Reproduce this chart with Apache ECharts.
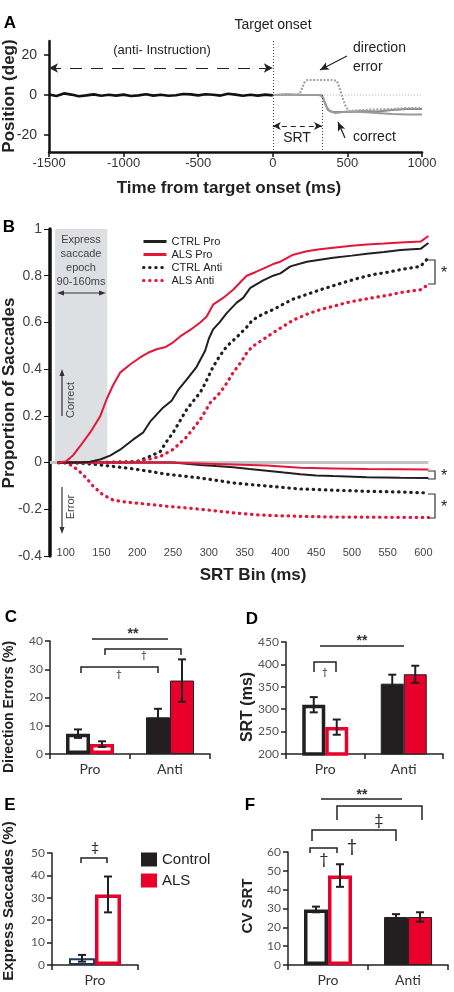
<!DOCTYPE html>
<html><head><meta charset="utf-8">
<script src="https://cdn.jsdelivr.net/npm/echarts@6/dist/echarts.min.js"></script>
<style>html,body{margin:0;padding:0;background:#fff}#c{width:454px;height:992px}</style>
</head><body><div id="c"></div>
<script>
// ---------- DATA ----------
// Panel A: eye position traces (time ms, position deg)
const aPreTrace = [[-1500,0.3],[-1450,-0.5],[-1400,0.8],[-1350,0.2],[-1300,-0.6],[-1250,-0.2],[-1200,0.3],[-1150,-0.4],[-1100,0.1],[-1050,-0.3],[-1000,0.2],[-950,-0.5],[-900,-0.2],[-850,0.4],[-800,-0.3],[-750,0.1],[-700,-0.4],[-650,-0.1],[-600,0.5],[-550,0.3],[-500,-0.2],[-450,0.4],[-400,0.1],[-350,-0.3],[-300,0.6],[-250,0.2],[-200,-0.4],[-150,0.1],[-100,-0.3],[-50,0.2],[0,-0.2]];
const aCorrect1 = [[0,0],[100,0.4],[200,0],[300,0],[330,-0.3],[350,-4],[370,-7.5],[400,-8.5],[500,-8.5],[600,-8],[700,-8.2],[800,-7.5],[900,-7],[1000,-7]];
const aCorrect2 = [[0,0],[150,0],[320,0],[340,-2],[360,-6],[380,-8],[420,-9],[500,-8.3],[600,-8.5],[700,-9],[800,-9.5],[900,-9.8],[1000,-9.8]];
const aErrorTrace = [[0,0],[150,0],[180,0.5],[210,6],[230,7.5],[300,7.5],[400,7.5],[430,7],[450,3],[470,-2],[490,-6],[510,-8],[600,-7.5],[700,-7.2],[800,-7],[900,-6.5],[1000,-6.5]];
const aTicksY = [-20, 0, 20];

// Panel B: cumulative proportion of saccades by SRT bin (ms, proportion)
const bCtrlPro = [[90,0],[120,0],[134,0.004],[148,0.013],[162,0.03],[176,0.055],[194,0.098],[208,0.128],[218,0.175],[236,0.235],[248,0.265],[257,0.31],[269,0.355],[283,0.41],[295,0.48],[300,0.53],[306,0.57],[315,0.6],[325,0.64],[339,0.685],[348,0.705],[358,0.748],[376,0.78],[390,0.8],[400,0.81],[414,0.84],[437,0.86],[474,0.877],[500,0.886],[521,0.894],[545,0.902],[568,0.91],[596,0.915],[607,0.94]];
const bAlsPro = [[90,0],[100,0.005],[110,0.03],[120,0.07],[134,0.128],[148,0.197],[157,0.27],[166,0.33],[176,0.385],[190,0.42],[204,0.45],[215,0.47],[227,0.485],[240,0.495],[248,0.51],[260,0.54],[275,0.57],[288,0.6],[297,0.625],[306,0.676],[320,0.705],[334,0.74],[345,0.775],[353,0.8],[365,0.815],[376,0.83],[390,0.85],[400,0.86],[418,0.89],[437,0.905],[455,0.913],[474,0.92],[500,0.928],[521,0.934],[545,0.938],[568,0.942],[596,0.946],[607,0.97]];
const bCtrlAnti = [[90,0],[150,0],[200,0.005],[213,0.02],[232,0.047],[241,0.09],[250,0.128],[260,0.18],[269,0.227],[280,0.27],[288,0.3],[295,0.34],[306,0.41],[315,0.455],[325,0.497],[340,0.54],[353,0.58],[361,0.61],[375,0.635],[390,0.655],[405,0.68],[418,0.7],[437,0.72],[456,0.74],[475,0.758],[493,0.775],[510,0.79],[530,0.805],[550,0.815],[568,0.826],[596,0.84],[607,0.877]];
const bAlsAnti = [[90,0],[150,0],[200,0.003],[232,0.026],[250,0.056],[269,0.11],[288,0.184],[302,0.256],[316,0.3],[325,0.34],[334,0.385],[345,0.43],[353,0.47],[361,0.497],[375,0.525],[390,0.556],[405,0.585],[418,0.61],[437,0.635],[456,0.655],[475,0.67],[493,0.685],[510,0.695],[530,0.706],[550,0.716],[568,0.728],[596,0.74],[607,0.762]];
const bCtrlProErr = [[90,0],[250,0],[288,-0.01],[310,-0.015],[334,-0.02],[357,-0.028],[381,-0.035],[405,-0.043],[428,-0.05],[450,-0.055],[474,-0.058],[521,-0.063],[568,-0.065],[607,-0.066]];
const bAlsProErr = [[90,0],[241,0],[288,-0.004],[334,-0.008],[381,-0.013],[428,-0.022],[474,-0.025],[521,-0.028],[568,-0.029],[607,-0.03]];
const bCtrlAntiErr = [[90,0],[120,-0.002],[148,-0.01],[170,-0.018],[194,-0.027],[218,-0.038],[241,-0.05],[265,-0.058],[288,-0.066],[310,-0.076],[334,-0.087],[357,-0.094],[381,-0.1],[405,-0.107],[428,-0.113],[474,-0.118],[521,-0.123],[568,-0.126],[607,-0.13]];
const bAlsAntiErr = [[90,0],[100,0],[110,-0.015],[120,-0.04],[130,-0.07],[138,-0.1],[152,-0.138],[166,-0.16],[180,-0.168],[194,-0.172],[220,-0.18],[241,-0.187],[265,-0.193],[288,-0.2],[310,-0.207],[334,-0.215],[360,-0.222],[381,-0.226],[428,-0.23],[474,-0.233],[540,-0.234],[607,-0.235]];
const bTickLabelsX = [100,150,200,250,300,350,400,450,500,550,600];
const bExpressEpoch = [85, 158];

// Bar panels
const catsProAnti = ['Pro', 'Anti'];
const catsPro = ['Pro'];
const cCtrl = [7.2, 13], cCtrlErr = [1.5, 3], cAls = [3.5, 26], cAlsErr = [1, 7.5];
const dCtrl = [310, 357], dCtrlErr = [17, 20], dAls = [260, 378], dAlsErr = [17, 19];
const eCtrl = [3], eCtrlErr = [1.5], eAls = [31.5], eAlsErr = [8];
const fCtrl = [29.5, 25.5], fCtrlErr = [1.5, 1.5], fAls = [47.5, 25.5], fAlsErr = [6, 2.5];

// ---------- STYLE ----------
const BLK = '#231f20', RED = '#e4163a', BRED = '#e8002a', NAVY = '#1d3a57';
const ARIAL = '"Liberation Sans", Arial, sans-serif';
const CAL = 'Lato, "Open Sans", sans-serif';

const chart = echarts.init(document.getElementById('c'), null, {renderer: 'canvas'});

function lineS(name, data, color, dotted, gi, extra) {
  return Object.assign({
    type: 'line', name, data, xAxisIndex: gi, yAxisIndex: gi, symbol: 'none', showSymbol: false,
    silent: true, animation: false, itemStyle: {color},
    lineStyle: dotted ? {color, width: 3.2, type: [0.5, 5.6], cap: 'round'} : {color, width: 2}
  }, extra || {});
}

function barAxisX(gi, cats) {
  return {gridIndex: gi, type: 'category', data: cats,
    axisLine: {onZero: false, lineStyle: {color: '#222', width: 1.5}},
    axisTick: {show: true, length: 5, lineStyle: {color: '#222', width: 1.5}},
    axisLabel: {fontSize: 14, color: '#333', margin: 8, fontFamily: CAL}};
}
function barAxisY(gi, min, max, interval) {
  return {gridIndex: gi, type: 'value', min, max, interval,
    axisLine: {show: true, onZero: false, lineStyle: {color: '#222', width: 1.5}},
    axisTick: {show: true, length: 5, lineStyle: {color: '#222', width: 1.5}},
    axisLabel: {fontSize: 12, color: '#555', margin: 7, fontFamily: CAL},
    splitLine: {show: false}};
}
function barSeries(name, gi, vals, hollowColor, solidColor, bw, hbw) {
  return {type: 'bar', name, xAxisIndex: gi, yAxisIndex: gi, barWidth: bw, barGap: '0%', silent: true, animation: false,
    itemStyle: {color: solidColor},
    data: vals.map((v, i) => ({value: v, itemStyle: i === 0
      ? {color: '#fff', borderColor: hollowColor, borderWidth: hbw || 3.5}
      : {color: solidColor, borderColor: '#222', borderWidth: 1}}))};
}
function errBars(gi, means, errs, off) {
  return {type: 'custom', xAxisIndex: gi, yAxisIndex: gi, z: 10, silent: true, animation: false, clip: false,
    encode: {x: 0, y: [1, 2]},
    data: means.map((m, i) => [i, m - errs[i], m + errs[i]]),
    renderItem: (p, api) => {
      const a = api.coord([api.value(0), api.value(1)]), b = api.coord([api.value(0), api.value(2)]);
      const x = a[0] + off, c = 4, st = {stroke: '#231f20', lineWidth: 2};
      return {type: 'group', children: [
        {type: 'line', shape: {x1: x, y1: a[1], x2: x, y2: b[1]}, style: st},
        {type: 'line', shape: {x1: x - c, y1: a[1], x2: x + c, y2: a[1]}, style: st},
        {type: 'line', shape: {x1: x - c, y1: b[1], x2: x + c, y2: b[1]}, style: st}]};
    }};
}

// ---------- annotation graphics ----------
const G = [];
function T(text, x, y, size, o) {
  o = o || {};
  G.push({type: 'text', x, y, rotation: o.rot || 0, silent: true, z: 100,
    style: {text, fontSize: size, fontFamily: o.font || ARIAL, fontWeight: o.bold ? 'bold' : 'normal',
      fill: o.color || '#222', align: o.align || 'center', verticalAlign: 'middle', lineHeight: o.lh}});
}
function P(points, w, color) {
  G.push({type: 'polyline', silent: true, z: 100, shape: {points}, style: {stroke: color || '#222', lineWidth: w || 1.5, fill: null}});
}
function tri(points, color) {
  G.push({type: 'polygon', silent: true, z: 100, shape: {points}, style: {fill: color || '#222'}});
}
function bracket(x1, x2, yt, yb) { P([[x1, yb], [x1, yt], [x2, yt], [x2, yb]], 1.5, '#222'); }

// Panel letters
T('A', 10, 23, 17, {bold: true, color: '#000'});
T('B', 9, 227, 17, {bold: true, color: '#000'});
T('C', 11, 617, 17, {bold: true, color: '#000'});
T('D', 252, 619, 17, {bold: true, color: '#000'});
T('E', 10, 805, 17, {bold: true, color: '#000'});
T('F', 250, 805, 17, {bold: true, color: '#000'});

// Panel A texts
T('Position (deg)', 9, 96, 17, {bold: true, rot: Math.PI / 2});
T('Time from target onset (ms)', 229, 188, 17, {bold: true});
T('Target onset', 273, 25, 14);
T('(anti- Instruction)', 162, 50, 13);
T('direction', 353, 48, 14, {align: 'left'});
T('error', 353, 67, 14, {align: 'left'});
T('correct', 353, 137, 14, {align: 'left'});
T('SRT', 297, 138, 14);

// Panel B texts
T('Proportion of Saccades', 9, 393, 17, {bold: true, rot: Math.PI / 2});
T('SRT Bin (ms)', 253, 575, 17, {bold: true});
T('Express', 81, 240, 11, {color: '#444'});
T('saccade', 81, 254, 11, {color: '#444'});
T('epoch', 81, 268, 11, {color: '#444'});
T('90-160ms', 81, 282, 11, {color: '#444'});
P([[60, 293], [103, 293]], 1.2, '#333');
tri([[57, 293], [64, 290.5], [64, 295.5]], '#333');
tri([[106, 293], [99, 290.5], [99, 295.5]], '#333');
T('Correct', 71, 400, 11, {rot: Math.PI / 2, color: '#444'});
P([[62, 416], [62, 373]], 1.2, '#333');
tri([[62, 369], [59.5, 376], [64.5, 376]], '#333');
T('Error', 71, 507, 11, {rot: Math.PI / 2, color: '#444'});
P([[62, 487], [62, 530]], 1.2, '#333');
tri([[62, 534], [59.5, 527], [64.5, 527]], '#333');
P([[428, 260], [435, 260], [435, 284], [428, 284]], 1.2, '#333');
T('*', 444, 274, 16);
P([[428, 471], [435, 471], [435, 479], [428, 479]], 1.2, '#333');
T('*', 444, 477, 16);
P([[428, 494], [435, 494], [435, 518], [428, 518]], 1.2, '#333');
T('*', 444, 508, 16);

// Panel C
T('Direction Errors (%)', 9, 707, 14, {bold: true, rot: Math.PI / 2});
P([[92, 639], [168, 639]], 1.5);
T('**', 133, 634, 14, {bold: true, color: '#333'});
bracket(105, 181, 649, 655);
T('†', 144, 655, 10, {font: CAL});
bracket(81, 158, 667, 673);
T('†', 119, 674, 10, {font: CAL});

// Panel D
T('SRT (ms)', 248, 707, 16, {bold: true, rot: Math.PI / 2});
P([[320, 646], [404, 646]], 1.5);
T('**', 362, 641, 14, {bold: true, color: '#333'});
bracket(314, 336, 662, 672);
T('†', 325, 672, 10, {font: CAL});

// Panel E
T('Express Saccades (%)', 9, 901, 15, {bold: true, rot: Math.PI / 2});
bracket(81, 107, 858, 863);
T('‡', 95, 847, 14, {font: CAL});

// Panel F
T('CV SRT', 248, 906, 15, {bold: true, rot: Math.PI / 2});
P([[321, 799], [402, 799]], 1.5);
T('**', 362, 795, 14, {bold: true, color: '#333'});
bracket(337, 422, 806, 820);
T('‡', 379, 820, 16, {font: CAL});
bracket(312, 396, 830, 841);
T('†', 352, 846, 18, {font: CAL});
bracket(310, 337, 848, 853);
T('†', 324, 859, 16, {font: CAL});

// ---------- OPTION ----------
const option = {
  animation: false,
  backgroundColor: '#fff',
  grid: [
    {left: 49, right: 32, top: 41, height: 111},   // A
    {left: 50, right: 22, top: 229, height: 327},  // B
    {left: 50, right: 244, top: 641, height: 113}, // C
    {left: 286, right: 11, top: 642, height: 112}, // D
    {left: 52, right: 316, top: 853, height: 112}, // E
    {left: 288, right: 6, top: 852, height: 113}   // F
  ],
  xAxis: [
    {gridIndex: 0, type: 'value', min: -1500, max: 1000, interval: 500,
      axisLine: {show: true, onZero: false, lineStyle: {color: '#111', width: 2.5}},
      axisTick: {show: true, length: 5, lineStyle: {color: '#111', width: 1.5}},
      axisLabel: {fontSize: 13, color: '#333', margin: 5, fontFamily: ARIAL, formatter: v => String(v)}, splitLine: {show: false}},
    {gridIndex: 1, type: 'value', min: 78, max: 612,
      axisLine: {show: false}, axisTick: {show: false},
      axisLabel: {customValues: bTickLabelsX, fontSize: 11, color: '#444', margin: -9, fontFamily: ARIAL, formatter: v => String(v)}, splitLine: {show: false}},
    barAxisX(2, catsProAnti), barAxisX(3, catsProAnti), barAxisX(4, catsPro), barAxisX(5, catsProAnti)
  ],
  yAxis: [
    {gridIndex: 0, type: 'value', min: -28.5, max: 27,
      axisLine: {show: true, onZero: false, lineStyle: {color: '#111', width: 2.5}},
      axisTick: {show: true, customValues: aTicksY, length: 5, lineStyle: {color: '#111', width: 1.5}},
      axisLabel: {customValues: aTicksY, fontSize: 14, color: '#333', margin: 12, fontFamily: ARIAL}, splitLine: {show: false}},
    {gridIndex: 1, type: 'value', min: -0.4, max: 1, interval: 0.2,
      axisLine: {show: true, onZero: false, lineStyle: {color: '#111', width: 3.5}},
      axisTick: {show: true, length: 6, lineStyle: {color: '#111', width: 1}},
      axisLabel: {fontSize: 14, color: '#444', margin: 8, fontFamily: ARIAL, formatter: v => String(Math.round(v * 10) / 10)},
      splitLine: {show: false}},
    barAxisY(2, 0, 40, 10), barAxisY(3, 200, 450, 50), barAxisY(4, 0, 50, 10), barAxisY(5, 0, 60, 10)
  ],
  legend: [
    {data: ['CTRL Pro', 'ALS Pro', 'CTRL Anti', 'ALS Anti'], left: 137, top: 230, orient: 'vertical',
      itemWidth: 23, itemHeight: 13, itemGap: 0, selectedMode: false,
      itemStyle: {opacity: 0}, lineStyle: {width: 3},
      textStyle: {fontSize: 11, fontFamily: ARIAL, color: '#222', lineHeight: 13}},
    {data: [{name: 'Control', itemStyle: {color: BLK, borderWidth: 0}}, {name: 'ALS', itemStyle: {color: BRED, borderWidth: 0}}],
      left: 136, top: 847, orient: 'vertical', icon: 'rect', itemWidth: 16, itemHeight: 14, itemGap: 6, selectedMode: false,
      textStyle: {fontSize: 15, fontFamily: ARIAL, color: '#222'}}
  ],
  series: [
    // Panel A
    {type: 'line', name: 'zeroA', xAxisIndex: 0, yAxisIndex: 0, data: [[0, 0], [1000, 0]], symbol: 'none', silent: true,
      lineStyle: {color: '#aaa', width: 1, type: [1, 2]},
      markLine: {silent: true, animation: false, label: {show: false}, symbol: 'none',
        data: [
          [{coord: [0, 27], lineStyle: {color: '#444', width: 1, type: [1, 2]}}, {coord: [0, -28.5]}],
          [{coord: [330, 0], lineStyle: {color: '#444', width: 1, type: [1, 2]}}, {coord: [330, -28.5]}],
          [{coord: [-1500, 13.5], symbol: 'arrow', symbolSize: [7, 9], lineStyle: {color: '#222', width: 1.2, type: [12, 9]}}, {coord: [0, 13.5], symbol: 'arrow', symbolSize: [7, 9]}],
          [{coord: [0, -15.5], symbol: 'arrow', symbolSize: [6, 8], lineStyle: {color: '#222', width: 1.2, type: [5, 4]}}, {coord: [330, -15.5], symbol: 'arrow', symbolSize: [6, 8]}],
          [{coord: [497, 19.5], symbol: 'none', lineStyle: {color: '#222', width: 1.2, type: 'solid'}}, {coord: [316, 12.5], symbol: 'arrow', symbolSize: [6, 9]}],
          [{coord: [484, -21.5], symbol: 'none', lineStyle: {color: '#222', width: 1.2, type: 'solid'}}, {coord: [437, -13.5], symbol: 'arrow', symbolSize: [6, 9]}]
        ]}},
    lineS('traceCorrect1', aCorrect1, '#8a8a8a', false, 0, {lineStyle: {color: '#8a8a8a', width: 2}}),
    lineS('traceCorrect2', aCorrect2, '#9a9a9a', false, 0, {lineStyle: {color: '#9a9a9a', width: 2}}),
    lineS('traceError', aErrorTrace, '#a0a0a0', false, 0, {lineStyle: {color: '#a5a5a5', width: 2.2, type: [2, 1.5]}}),
    lineS('tracePre', aPreTrace, '#111', false, 0, {lineStyle: {color: '#111', width: 2.6}}),
    // Panel B
    {type: 'line', name: 'zeroB', xAxisIndex: 1, yAxisIndex: 1, data: [[78, 0], [607, 0]], symbol: 'none', silent: true, z: 1,
      lineStyle: {color: '#c4c4c4', width: 3},
      markArea: {silent: true, itemStyle: {color: '#dedfe2'},
        data: [[{coord: [bExpressEpoch[0], 0]}, {coord: [bExpressEpoch[1], 1]}]]}},
    lineS('CTRL Anti err', bCtrlAntiErr, BLK, true, 1),
    lineS('ALS Anti err', bAlsAntiErr, RED, true, 1),
    lineS('CTRL Pro err', bCtrlProErr, BLK, false, 1),
    lineS('ALS Pro err', bAlsProErr, RED, false, 1),
    lineS('CTRL Anti', bCtrlAnti, BLK, true, 1),
    lineS('ALS Anti', bAlsAnti, RED, true, 1),
    lineS('CTRL Pro', bCtrlPro, BLK, false, 1),
    lineS('ALS Pro', bAlsPro, RED, false, 1),
    // Panel C
    barSeries('Control', 2, cCtrl, BLK, BLK, 24), barSeries('ALS', 2, cAls, BRED, BRED, 24),
    errBars(2, cCtrl, cCtrlErr, -12), errBars(2, cAls, cAlsErr, 12),
    // Panel D
    barSeries('Control', 3, dCtrl, BLK, BLK, 23), barSeries('ALS', 3, dAls, BRED, BRED, 23),
    errBars(3, dCtrl, dCtrlErr, -11.5), errBars(3, dAls, dAlsErr, 11.5),
    // Panel E
    barSeries('Control', 4, eCtrl, NAVY, BLK, 26, 2), barSeries('ALS', 4, eAls, BRED, BRED, 26),
    errBars(4, eCtrl, eCtrlErr, -13), errBars(4, eAls, eAlsErr, 13),
    // Panel F
    barSeries('Control', 5, fCtrl, BLK, BLK, 24), barSeries('ALS', 5, fAls, BRED, BRED, 24),
    errBars(5, fCtrl, fCtrlErr, -12), errBars(5, fAls, fAlsErr, 12)
  ],
  graphic: {elements: G}
};
chart.setOption(option);
</script></body></html>
